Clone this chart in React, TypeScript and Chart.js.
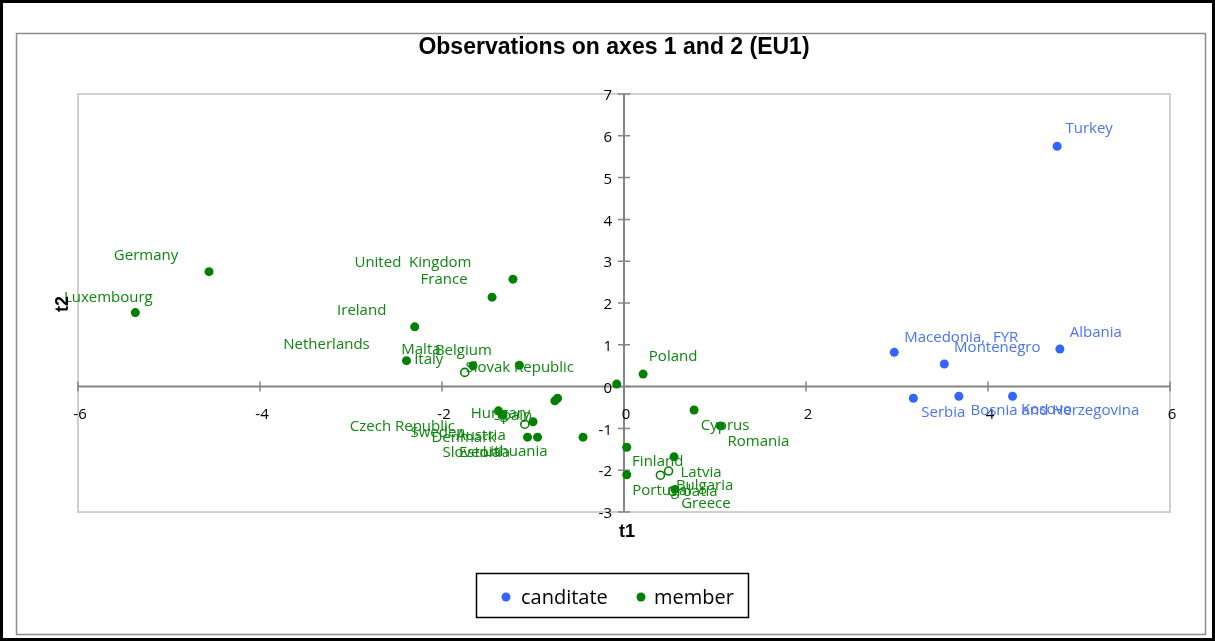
import { useEffect, useRef } from "react";
import { Chart, registerables } from "chart.js";

Chart.register(...registerables);

// ---------- data ----------
const candidateNames = ["Turkey", "Albania", "Macedonia,  FYR", "Montenegro", "Serbia", "Bosnia and Herzegovina", "Kosovo"];
const candidateT1 = [4.76, 4.79, 2.97, 3.52, 3.18, 3.68, 4.27];
const candidateT2 = [5.75, 0.9, 0.82, 0.54, -0.28, -0.23, -0.23];

const memberNames = [
  "Luxembourg", "Germany", "United  Kingdom", "France", "Ireland", "Netherlands", "Malta", "Belgium",
  "Italy", "Slovak Republic", "Poland", "Hungary", "Spain", "Czech Republic", "Sweden", "Austria",
  "Denmark", "Slovenia", "Estonia", "Lithuania", "Cyprus", "Romania", "Finland", "Latvia",
  "Portugal", "Croatia", "Bulgaria", "Greece",
];
const memberT1 = [
  -5.37, -4.56, -1.22, -1.45, -2.3, -2.39, -1.66, -1.15,
  -1.75, -0.08, 0.21, -0.73, -0.76, -1.38, -1.33, -1.0,
  -1.09, -1.06, -0.95, -0.45, 0.77, 1.06, 0.03, 0.55,
  0.03, 0.4, 0.49, 0.56,
];
const memberT2 = [
  1.77, 2.75, 2.57, 2.14, 1.43, 0.62, 0.5, 0.51,
  0.34, 0.06, 0.3, -0.28, -0.34, -0.58, -0.68, -0.84,
  -0.9, -1.21, -1.21, -1.21, -0.56, -0.94, -1.45, -1.68,
  -2.11, -2.12, -2.02, -2.46,
];
const memberHollow = [
  false, false, false, false, false, false, false, false,
  true, false, false, false, false, false, false, false,
  true, false, false, false, false, false, false, false,
  false, true, true, false,
];

const xTicks = [-6, -4, -2, 0, 2, 4, 6];
const yTicks = [-3, -2, -1, 0, 1, 2, 3, 4, 5, 6, 7];

const titleText = "Observations on axes 1 and 2 (EU1)";
const xTitle = "t1";
const yTitle = "t2";
const seriesNames = ["canditate", "member"];

// label placement (pixel offsets of label centre from its point) – styling only
const candidateLabelOffsets = [[32, -18], [36, -16], [67, -15], [53, -16], [30, 14], [96, 15], [34, 14]];
const memberLabelOffsets = [
  [-27, -15], [-63, -16], [-100, -16], [-48, -17], [-53, -16], [-80, -16], [-52, -16], [-56, -15],
  [-36, -13], [-97, -16], [30, -17], [-57, 15], [-42, 15], [-96, 16], [-65, 18], [-52, 14],
  [-61, 14], [-56, 16], [-53, 16], [-68, 15], [31, 16], [38, 16], [31, 15], [27, 16],
  [35, 16], [32, 17], [36, 15], [31, 14],
];

const BLUE = "#3366FF";
const BLUE_TEXT = "#4A74F7";
const GREEN = "#008000";
const GREEN_TEXT = "#0E870E";
const AXIS = "#868686";

const decoPlugin = {
  id: "deco",
  beforeDraw(chart: any) {
    const { ctx, chartArea: a, width, height } = chart;
    ctx.save();
    ctx.fillStyle = "#fff";
    ctx.fillRect(0, 0, width, height);
    ctx.strokeStyle = "#000";
    ctx.lineWidth = 3;
    ctx.strokeRect(1.5, 1.5, width - 3, height - 3);
    ctx.strokeStyle = "#8c8c8c";
    ctx.lineWidth = 1.5;
    ctx.strokeRect(16.5, 33.5, 1189, 601);
    ctx.strokeStyle = "#C0C0C0";
    ctx.lineWidth = 1.5;
    ctx.strokeRect(a.left, a.top, a.right - a.left, a.bottom - a.top);
    ctx.restore();
  },
  beforeDatasetsDraw(chart: any) {
    const { ctx, chartArea: a, scales } = chart;
    const xs = scales.x;
    const ys = scales.y;
    const x0 = xs.getPixelForValue(0);
    const y0 = ys.getPixelForValue(0);
    ctx.save();
    ctx.strokeStyle = AXIS;
    ctx.lineWidth = 2;
    ctx.beginPath();
    ctx.moveTo(a.left, y0);
    ctx.lineTo(a.right, y0);
    ctx.moveTo(x0, a.top);
    ctx.lineTo(x0, a.bottom);
    ctx.stroke();
    ctx.lineWidth = 1.5;
    ctx.beginPath();
    for (const t of xTicks) {
      const px = xs.getPixelForValue(t);
      ctx.moveTo(px, y0 - 5);
      ctx.lineTo(px, y0 + 5);
    }
    for (const t of yTicks) {
      const py = ys.getPixelForValue(t);
      ctx.moveTo(x0 - 6, py);
      ctx.lineTo(x0 + 6, py);
    }
    ctx.stroke();
    ctx.fillStyle = "#000";
    ctx.font = '15px "Open Sans"';
    ctx.textAlign = "center";
    ctx.textBaseline = "middle";
    for (const t of xTicks) {
      ctx.fillText(String(t), xs.getPixelForValue(t) + 2, y0 + 28);
    }
    ctx.textAlign = "right";
    for (const t of yTicks) {
      ctx.fillText(String(t), x0 - 12, ys.getPixelForValue(t) + 2);
    }
    ctx.restore();
  },
  afterDatasetsDraw(chart: any) {
    const { ctx } = chart;
    ctx.save();
    ctx.font = '15px "Open Sans"';
    ctx.textAlign = "center";
    ctx.textBaseline = "middle";
    const groups = [
      { idx: 0, names: candidateNames, offs: candidateLabelOffsets, color: BLUE_TEXT },
      { idx: 1, names: memberNames, offs: memberLabelOffsets, color: GREEN_TEXT },
    ];
    for (const g of groups) {
      const meta = chart.getDatasetMeta(g.idx);
      ctx.fillStyle = g.color;
      meta.data.forEach((el: any, i: number) => {
        const [dx, dy] = g.offs[i];
        ctx.fillText(g.names[i], el.x + dx, el.y + dy);
      });
    }
    ctx.restore();
  },
  afterDraw(chart: any) {
    const { ctx } = chart;
    ctx.save();
    ctx.fillStyle = "#000";
    ctx.textAlign = "center";
    ctx.textBaseline = "middle";
    ctx.font = 'bold 23px "Liberation Sans"';
    ctx.fillText(titleText, 614, 48);
    ctx.font = 'bold 18px "Liberation Sans"';
    ctx.fillText(xTitle, 627, 532);
    ctx.save();
    ctx.translate(63, 304);
    ctx.rotate(-Math.PI / 2);
    ctx.fillText(yTitle, 0, 0);
    ctx.restore();
    // legend
    ctx.strokeStyle = "#000";
    ctx.lineWidth = 1.5;
    ctx.strokeRect(476.5, 573.5, 272, 44);
    const items = [
      { c: BLUE, x: 506, tx: 521 },
      { c: GREEN, x: 641, tx: 654 },
    ];
    ctx.font = '20px "Open Sans"';
    ctx.textAlign = "left";
    items.forEach((it, i) => {
      ctx.fillStyle = it.c;
      ctx.beginPath();
      ctx.arc(it.x, 597, 4.5, 0, Math.PI * 2);
      ctx.fill();
      ctx.fillStyle = "#000";
      ctx.fillText(seriesNames[i], it.tx, 598);
    });
    ctx.restore();
  },
};

export default function App() {
  const ref = useRef<HTMLCanvasElement>(null);
  useEffect(() => {
    document.body.style.margin = "0";
    const canvas = ref.current!;
    const chart = new Chart(canvas, {
      type: "scatter",
      data: {
        datasets: [
          {
            label: seriesNames[0],
            data: candidateT1.map((x, i) => ({ x, y: candidateT2[i] })),
            backgroundColor: BLUE,
            borderColor: BLUE,
            borderWidth: 0,
            pointRadius: 4.5,
          },
          {
            label: seriesNames[1],
            data: memberT1.map((x, i) => ({ x, y: memberT2[i] })),
            pointBackgroundColor: memberHollow.map((h) => (h ? "#ffffff" : GREEN)),
            pointBorderColor: GREEN,
            pointBorderWidth: memberHollow.map((h) => (h ? 1.6 : 0)),
            pointRadius: memberHollow.map((h) => (h ? 4 : 4.5)),
          },
        ],
      },
      options: {
        animation: false,
        responsive: false,
        devicePixelRatio: 1,
        layout: { padding: { left: 78, right: 45, top: 94, bottom: 129 } },
        plugins: { legend: { display: false }, tooltip: { enabled: false }, title: { display: false } },
        scales: {
          x: { type: "linear", min: -6, max: 6, display: false },
          y: { type: "linear", min: -3, max: 7, display: false },
        },
      },
      plugins: [decoPlugin],
    } as any);
    return () => chart.destroy();
  }, []);
  return (
    <div style={{ width: 1215, height: 641 }}>
      <canvas ref={ref} width={1215} height={641} style={{ display: "block" }} />
    </div>
  );
}
